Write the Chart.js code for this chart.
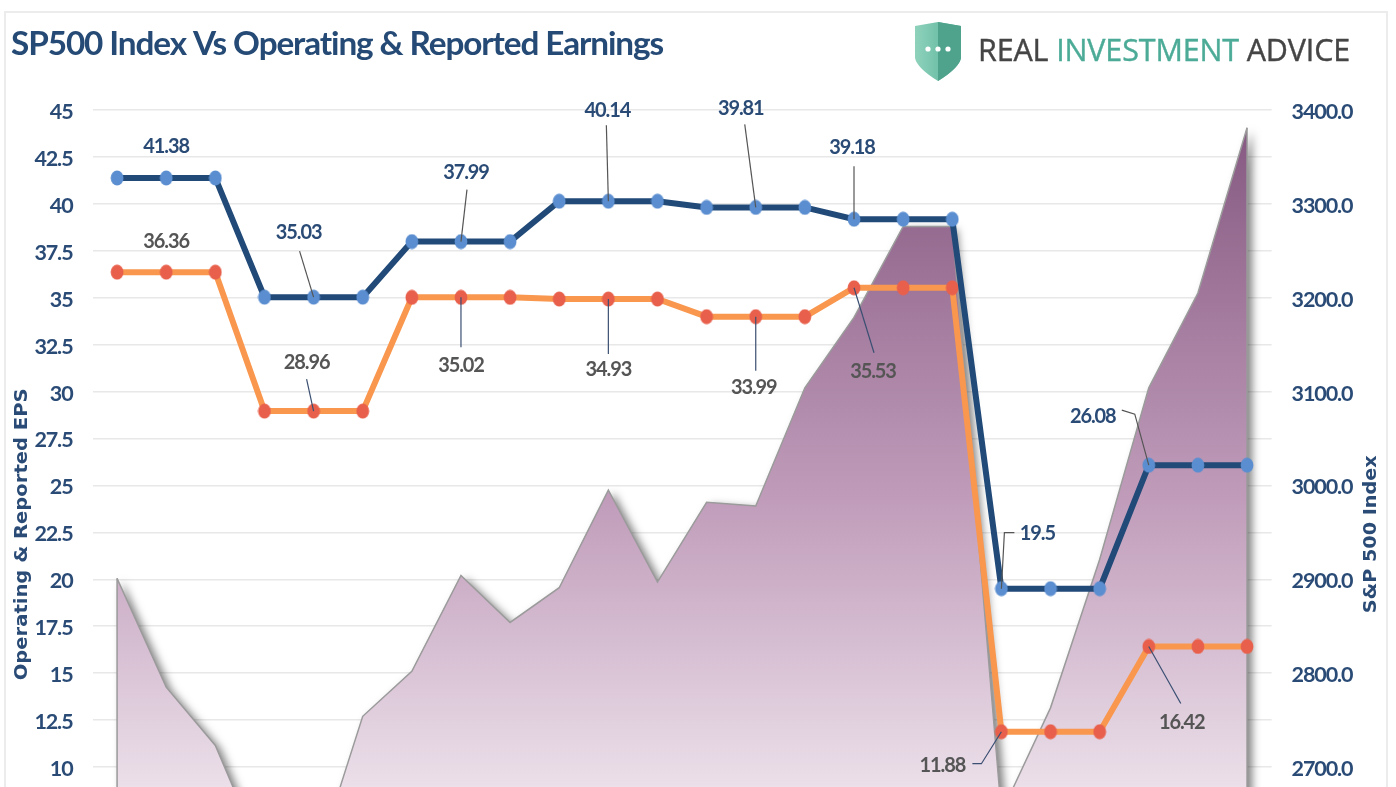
<!DOCTYPE html>
<html>
<head>
<meta charset="utf-8">
<title>SP500 Index Vs Operating & Reported Earnings</title>
<script src="https://cdn.jsdelivr.net/npm/chart.js@4/dist/chart.umd.min.js"></script>
<style>
html,body{margin:0;padding:0;background:#fff;width:1396px;height:787px;overflow:hidden}
#frame{position:absolute;left:4px;top:11px;width:1380px;height:1000px;border:2px solid #ececec;box-sizing:content-box}
#wrap{position:absolute;left:0;top:0;width:1396px;height:1000px;filter:blur(.45px)}
#logo{position:absolute;left:915px;top:22px;filter:blur(.45px)}
#brand{position:absolute;left:978px;top:28px;font:400 30.5px "Open Sans",sans-serif;letter-spacing:-.15px;color:#454545;white-space:nowrap;line-height:42px;-webkit-text-stroke:.4px #454545;filter:blur(.45px)}
#brand b{font-weight:400;color:#4cab97;-webkit-text-stroke:.4px #4cab97}
</style>
</head>
<body>
<div id="frame"></div>
<div id="wrap"><canvas id="c" width="1396" height="1000"></canvas></div>
<svg id="logo" width="47" height="59" viewBox="0 0 47 59">
<defs><linearGradient id="g" x1="0" x2="1" y1="0" y2="0"><stop offset="0" stop-color="#8fd2bc"/><stop offset="1" stop-color="#55b097"/></linearGradient></defs>
<path d="M0 4 L23 0 L46 4 L46 36 Q44 46 23 59 Q2 46 0 36 Z" fill="url(#g)"/>
<path d="M23 0 L46 4 L46 36 Q44 46 23 59 Z" fill="#4fa28c"/>
<circle cx="13" cy="27" r="2.6" fill="#fff"/><circle cx="23" cy="27" r="2.6" fill="#fff"/><circle cx="33" cy="27" r="2.6" fill="#fff"/>
</svg>
<div id="brand">REAL <b>INVESTMENT</b> ADVICE</div>
<script>
const categories = ["1","2","3","4","5","6","7","8","9","10","11","12","13","14","15","16","17","18","19","20","21","22","23","24"];
const operatingEPS = [41.38,41.38,41.38,35.03,35.03,35.03,37.99,37.99,37.99,40.14,40.14,40.14,39.81,39.81,39.81,39.18,39.18,39.18,19.5,19.5,19.5,26.08,26.08,26.08];
const reportedEPS = [36.36,36.36,36.36,28.96,28.96,28.96,35.02,35.02,35.02,34.93,34.93,34.93,33.99,33.99,33.99,35.53,35.53,35.53,11.88,11.88,11.88,16.42,16.42,16.42];
const sp500Index = [2901,2785,2723,2600,2590,2754,2802,2904,2854,2891,2995,2897,2982,2978,3104,3179,3276,3276,2651,2763,2921,3104,3205,3381];
const leftTicks = [0,2.5,5,7.5,10,12.5,15,17.5,20,22.5,25,27.5,30,32.5,35,37.5,40,42.5,45];

const navy = "#2a4b76", face = 'Lato,sans-serif';

// callouts: [dataset index, point index, label dx, label dy, leader points relative to the point]
const callouts = [
 [0,1,0,-32,null],
 [0,4,-15,-66,[[-14,-46]]],
 [0,7,5,-70,[[6,-52]]],
 [0,10,-1,-92,[[-2,-76]]],
 [0,13,-15,-100,[[-11,-83]]],
 [0,15,-2,-73,[[0,-53]]],
 [0,18,36,-56,[[3,-56],[13,-56]]],
 [0,21,-56,-50,[[-14,-51],[-27,-55]]],
 [1,1,0,-32,null],
 [1,4,-7,-50,[[-7,-32]]],
 [1,7,0,67,[[0,50]]],
 [1,10,0,70,[[0,55]]],
 [1,13,-2,70,[[0,54]]],
 [1,15,19,83,[[20,65]]],
 [1,18,-59,33,[[-20,32],[-29,32]]],
 [1,21,33,75,[[32,57]]]
];

function ovalMarker(color){
 const m = document.createElement("canvas"); m.width = 14; m.height = 16;
 const c = m.getContext("2d");
 c.fillStyle = color; c.beginPath(); c.ellipse(7,8,6.4,7.4,0,0,Math.PI*2); c.fill();
 return m;
}

const condensed = {
 id:"condensed",
 beforeDraw(chart){ chart.ctx.letterSpacing = "-1.1px"; }
};

const areaShadow = {
 id:"areaShadow",
 beforeDatasetsDraw(chart){
  const meta = chart.getDatasetMeta(2), ctx = chart.ctx, a = chart.chartArea;
  ctx.save();
  ctx.shadowColor = "rgba(0,0,0,.5)"; ctx.shadowBlur = 9; ctx.shadowOffsetX = 5; ctx.shadowOffsetY = 3;
  ctx.fillStyle = "#b49aae";
  ctx.beginPath();
  meta.data.forEach((p,i)=> i? ctx.lineTo(p.x,p.y):ctx.moveTo(p.x,p.y));
  ctx.lineTo(meta.data[meta.data.length-1].x,a.bottom);
  ctx.lineTo(meta.data[0].x,a.bottom);
  ctx.closePath(); ctx.fill();
  ctx.restore();
 },
 afterDatasetDraw(chart,args){
  if(args.index!==2) return;
  const d = chart.getDatasetMeta(2).data, ctx = chart.ctx, b = chart.chartArea.bottom;
  ctx.save(); ctx.strokeStyle="#9b9b9b"; ctx.lineWidth=1.5;
  ctx.beginPath(); ctx.moveTo(d[0].x,d[0].y); ctx.lineTo(d[0].x,b);
  ctx.moveTo(d[d.length-1].x,d[d.length-1].y); ctx.lineTo(d[d.length-1].x,b); ctx.stroke();
  ctx.restore();
 }
};

function axisTitle(ctx,text,x,y,size,length){
 ctx.save();
 ctx.letterSpacing = "0px";
 ctx.translate(x,y);
 ctx.rotate(-Math.PI/2);
 ctx.font='bold '+size+'px "DejaVu Sans",sans-serif';
 ctx.scale(length/ctx.measureText(text).width,1);
 ctx.fillStyle=navy; ctx.textAlign="center"; ctx.textBaseline="middle";
 ctx.fillText(text,0,0);
 ctx.restore();
}

const calloutLabels = {
 id:"calloutLabels",
 afterDatasetsDraw(chart){
  const ctx = chart.ctx;
  ctx.save();
  callouts.forEach(([ds,i,dx,dy,leader])=>{
   const p = chart.getDatasetMeta(ds).data[i];
   const v = chart.data.datasets[ds].data[i];
   if(leader){
    ctx.strokeStyle = ds===0 ? "#555" : "#3a4f72"; ctx.lineWidth = 1.2;
    ctx.beginPath(); ctx.moveTo(p.x,p.y);
    leader.forEach(l=>ctx.lineTo(p.x+l[0],p.y+l[1]));
    ctx.stroke();
   }
   ctx.fillStyle = ds===0 ? navy : "#555";
   ctx.font = 'bold 20px '+face;
   ctx.textAlign="center"; ctx.textBaseline="middle";
   ctx.fillText(String(v),p.x+dx,p.y+dy+1);
  });
  ctx.restore();
  const r = chart.scales.yR;
  axisTitle(ctx,"Operating & Reported EPS",23,(r.top+r.bottom)/2+2,17,292);
  axisTitle(ctx,"S&P 500 Index",1371,(r.top+r.bottom)/2+2,18,158);
 }
};

new Chart(document.getElementById("c"),{
 type:"line",
 data:{labels:categories,datasets:[
  {label:"Operating EPS",data:operatingEPS,yAxisID:"yL",order:1,borderColor:"#214a78",borderWidth:6,backgroundColor:"#5b8ed0",pointStyle:ovalMarker("#5b8ed0"),tension:0,fill:false},
  {label:"Reported EPS",data:reportedEPS,yAxisID:"yL",order:2,borderColor:"#f9974e",borderWidth:6,backgroundColor:"#e8604c",pointStyle:ovalMarker("#e8604c"),tension:0,fill:false},
  {label:"S&P 500 Index",data:sp500Index,yAxisID:"yR",order:3,borderColor:"#9b9b9b",borderWidth:1.5,pointRadius:0,tension:0,fill:"origin",
   backgroundColor(ctx){
    const a = ctx.chart.chartArea;
    if(!a) return "#b49aae";
    const g = ctx.chart.ctx.createLinearGradient(0,a.top,0,a.bottom);
    g.addColorStop(0,"#83567f"); g.addColorStop(.46,"#c09cba"); g.addColorStop(.8,"#ebdfe9"); g.addColorStop(1,"#ffffff");
    return g;
   }}
 ]},
 plugins:[condensed,areaShadow,calloutLabels],
 options:{
  responsive:false,animation:false,devicePixelRatio:1,
  layout:{padding:{left:11,right:10,top:10,bottom:45.3}},
  plugins:{
   legend:{display:false},tooltip:{enabled:false},
   title:{display:true,text:"SP500 Index Vs Operating & Reported Earnings",align:"start",color:"#254a75",
    font:{family:face,size:33.3,weight:"bold",lineHeight:1.2},padding:{top:14,bottom:46.04}}
  },
  scales:{
   x:{display:false,offset:true},
   yL:{position:"left",min:0,max:45,afterBuildTicks(s){s.ticks=leftTicks.map(v=>({value:v}));},
    afterFit(s){s.width=81.5;},
    grid:{color:"#e8e8e8",lineWidth:1.5,drawTicks:false},border:{display:false},
    ticks:{padding:20,labelOffset:2,color:navy,font:{family:face,size:21.5,weight:"bold"},callback:v=>String(v)}},
   yR:{position:"right",min:2500,max:3400,afterFit(s){s.width=114.4;},
    grid:{display:false,drawTicks:false},border:{display:false},
    ticks:{stepSize:100,padding:20,labelOffset:2,color:navy,font:{family:face,size:21.5,weight:"bold"},callback:v=>v.toFixed(1)}}
  }
 }
});
</script>
</body>
</html>
